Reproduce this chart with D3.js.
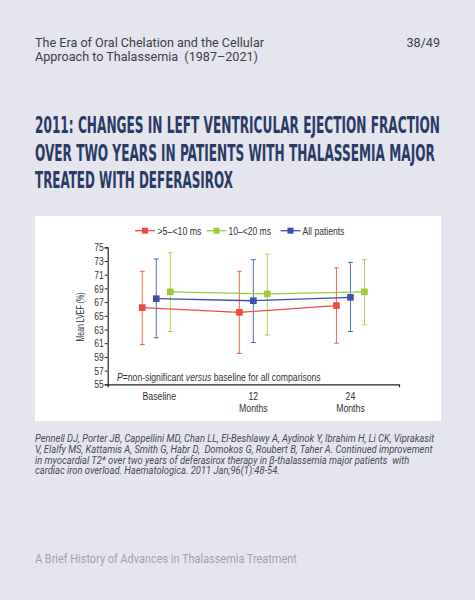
<!DOCTYPE html>
<html>
<head>
<meta charset="utf-8">
<script src="https://cdn.jsdelivr.net/npm/d3@7"></script>
<style>
  html, body { margin: 0; padding: 0; background: #e4e5ee; }
  svg { display: block; }
</style>
</head>
<body>
<div id="chart"></div>
<script>
const [width, height] = [475, 600];

// data
const categories = ["Baseline", "12 Months", "24 Months"];
const seriesNames = [">5\u2013<10 ms", "10\u2013<20 ms", "All patients"];
const redMean = [66.2, 65.5, 66.5];
const redLow = [60.8, 59.5, 61.0];
const redHigh = [71.5, 71.5, 72.0];
const greenMean = [68.5, 68.2, 68.5];
const greenLow = [62.7, 62.2, 63.7];
const greenHigh = [74.2, 74.0, 73.2];
const blueMean = [67.5, 67.2, 67.7];
const blueLow = [61.8, 61.1, 62.7];
const blueHigh = [73.3, 73.2, 72.8];
const yTicks = [55, 57, 59, 61, 63, 65, 67, 69, 71, 73, 75];

const series = [
  {name: seriesNames[0], color: "#ef4a3c", off: -14, mean: redMean, low: redLow, high: redHigh},
  {name: seriesNames[1], color: "#9dcb3d", off: 14, mean: greenMean, low: greenLow, high: greenHigh},
  {name: seriesNames[2], color: "#3a51a6", off: 0, mean: blueMean, low: blueLow, high: blueHigh}
];

// squeeze a text horizontally to a given width (about its anchor point)
function squeeze(sel, target) {
  sel.each(function(d) {
    const t = typeof target === "function" ? target(d) : target;
    const n = this.getComputedTextLength();
    const s = t / n;
    const x = +this.getAttribute("x") || 0, y = +this.getAttribute("y") || 0;
    const prev = this.getAttribute("transform") || "";
    this.setAttribute("transform", `${prev} translate(${x},${y}) scale(${s},1) translate(${-x},${-y})`);
  });
}
function scaleX(sel, s) {
  sel.each(function() {
    const x = +this.getAttribute("x") || 0, y = +this.getAttribute("y") || 0;
    const prev = this.getAttribute("transform") || "";
    this.setAttribute("transform", `${prev} translate(${x},${y}) scale(${s},1) translate(${-x},${-y})`);
  });
}

const svg = d3.select("#chart")
  .append("svg")
  .attr("width", width)
  .attr("height", height);

svg.append("rect").attr("width", width).attr("height", height).attr("fill", "#e4e5ee");

// header
const head = svg.append("g")
  .attr("font-family", "Roboto, sans-serif")
  .attr("font-size", 12.6)
  .attr("fill", "#3d3e48");
head.append("text").attr("x", 35).attr("y", 47).text("The Era of Oral Chelation and the Cellular");
head.append("text").attr("x", 35).attr("y", 61).text("Approach to Thalassemia\u00a0 (1987\u20132021)");
head.append("text").attr("x", 440).attr("y", 47).attr("text-anchor", "end").text("38/49");

// title
const titleLines = [
  ["2011: CHANGES IN LEFT VENTRICULAR EJECTION FRACTION", 405],
  ["OVER TWO YEARS IN PATIENTS WITH THALASSEMIA MAJOR", 400],
  ["TREATED WITH DEFERASIROX", 198]
];
svg.append("g")
  .attr("font-family", "'DejaVu Sans Condensed', 'DejaVu Sans', sans-serif")
  .attr("font-weight", "bold")
  .attr("font-size", 23)
  .attr("fill", "#2a3a66")
  .selectAll("text")
  .data(titleLines)
  .join("text")
  .attr("x", 35)
  .attr("y", (d, i) => 133.5 + i * 27.3)
  .text(d => d[0])
  .call(squeeze, d => d[1]);

// white panel
svg.append("rect")
  .attr("x", 35).attr("y", 216)
  .attr("width", 406).attr("height", 205)
  .attr("fill", "#ffffff");

// scales
const x = d3.scaleBand()
  .domain(categories)
  .range([107.7, 399]);

const y = d3.scaleLinear()
  .domain([55, 75])
  .range([384.3, 247.3]);

const cx = (i, off) => x(categories[i]) + x.bandwidth() / 2 + off;

const chartFont = "'Liberation Sans', Arial, sans-serif";

// y axis
const yAxis = svg.append("g")
  .attr("transform", `translate(${107.7},0)`)
  .call(d3.axisLeft(y).tickValues(yTicks).tickSize(3).tickSizeOuter(3));
yAxis.selectAll("text")
  .attr("font-family", chartFont)
  .attr("font-size", 11.5)
  .attr("fill", "#333")
  .attr("x", -4)
  .call(scaleX, 0.74);
yAxis.select(".domain").attr("stroke", "#222").attr("stroke-width", 1.2);
yAxis.selectAll(".tick line").attr("stroke", "#222");

// x axis
const xAxis = svg.append("g")
  .attr("transform", `translate(0,${384.3})`)
  .call(d3.axisBottom(x).tickSizeInner(0).tickSizeOuter(3).tickFormat(""));
xAxis.select(".domain").attr("stroke", "#222").attr("stroke-width", 1.2);

const xLab = svg.append("g")
  .attr("font-family", chartFont)
  .attr("font-size", 11.5)
  .attr("fill", "#333")
  .attr("text-anchor", "middle");
categories.forEach((c, i) => {
  const parts = c.split(" ");
  parts.forEach((p, j) => {
    xLab.append("text")
      .attr("x", x(c) + x.bandwidth() / 2 + (i === 0 ? 3 : 0))
      .attr("y", 400.5 + j * 11.5)
      .text(p)
      .call(scaleX, 0.76);
  });
});

// y label
svg.append("text")
  .attr("transform", `translate(84,${317}) rotate(-90)`)
  .attr("text-anchor", "middle")
  .attr("font-family", chartFont)
  .attr("font-size", 11.5)
  .attr("fill", "#333")
  .text("Mean LVEF (%)")
  .call(squeeze, 49);

// note
const note = svg.append("text")
  .attr("x", 117)
  .attr("y", 381)
  .attr("font-family", chartFont)
  .attr("font-size", 11.5)
  .attr("fill", "#333");
note.append("tspan").attr("font-style", "italic").text("P");
note.append("tspan").text("=non-significant ");
note.append("tspan").attr("font-style", "italic").text("versus");
note.append("tspan").text(" baseline for all comparisons");
note.call(squeeze, 204);

// error bars
series.forEach(s => {
  const g = svg.append("g").attr("stroke", s.color).attr("stroke-width", 1).attr("stroke-opacity", 0.85);
  s.mean.forEach((m, i) => {
    const px = cx(i, s.off);
    g.append("line").attr("x1", px).attr("x2", px).attr("y1", y(s.low[i])).attr("y2", y(s.high[i]));
    g.append("line").attr("x1", px - 2.5).attr("x2", px + 2.5).attr("y1", y(s.low[i])).attr("y2", y(s.low[i]));
    g.append("line").attr("x1", px - 2.5).attr("x2", px + 2.5).attr("y1", y(s.high[i])).attr("y2", y(s.high[i]));
  });
});

// lines and markers
const line = d3.line();
series.forEach(s => {
  const pts = s.mean.map((m, i) => [cx(i, s.off), y(m)]);
  svg.append("path")
    .attr("d", line(pts))
    .attr("fill", "none")
    .attr("stroke", s.color)
    .attr("stroke-width", 1.3);
  svg.append("g").selectAll("rect")
    .data(pts)
    .join("rect")
    .attr("x", d => d[0] - 3.3)
    .attr("y", d => d[1] - 3.3)
    .attr("width", 6.6)
    .attr("height", 6.6)
    .attr("fill", s.color);
});

// legend
const legendPos = [[135, 157.5, 44], [206.5, 228.5, 42.5], [280.5, 302.5, 42]];
series.forEach((s, i) => {
  const [lx, tx, tw] = legendPos[i];
  const g = svg.append("g");
  g.append("line").attr("x1", lx).attr("x2", lx + 20).attr("y1", 230.7).attr("y2", 230.7)
    .attr("stroke", s.color).attr("stroke-width", 1.3);
  g.append("rect").attr("x", lx + 7).attr("y", 227.7).attr("width", 6).attr("height", 6).attr("fill", s.color);
  g.append("text").attr("x", tx).attr("y", 234.8)
    .attr("font-family", chartFont).attr("font-size", 11.5).attr("fill", "#333")
    .text(s.name)
    .call(squeeze, tw);
});

// citation
const cite = [
  ["Pennell DJ, Porter JB, Cappellini MD, Chan LL, El-Beshlawy A, Aydinok Y, Ibrahim H, Li CK, Viprakasit", 400],
  ["V, Elalfy MS, Kattamis A, Smith G, Habr D,\u00a0 Domokos G, Roubert B, Taher A. Continued improvement", 398],
  ["in myocardial T2* over two years of deferasirox therapy in \u03b2-thalassemia major patients\u00a0 with", 375],
  ["cardiac iron overload. Haematologica. 2011 Jan;96(1):48-54.", 245]
];
svg.append("g")
  .attr("font-family", "Roboto, sans-serif")
  .attr("font-style", "italic")
  .attr("font-size", 10)
  .attr("fill", "#4a4b55")
  .selectAll("text")
  .data(cite)
  .join("text")
  .attr("x", 35)
  .attr("y", (d, i) => 442 + i * 10.8)
  .text(d => d[0])
  .call(squeeze, d => d[1]);

// footer
svg.append("text")
  .attr("x", 35)
  .attr("y", 563)
  .attr("font-family", "Roboto, sans-serif")
  .attr("font-size", 12.5)
  .attr("fill", "#a2a3ae")
  .text("A Brief History of Advances in Thalassemia Treatment")
  .call(squeeze, 262);
</script>
</body>
</html>
